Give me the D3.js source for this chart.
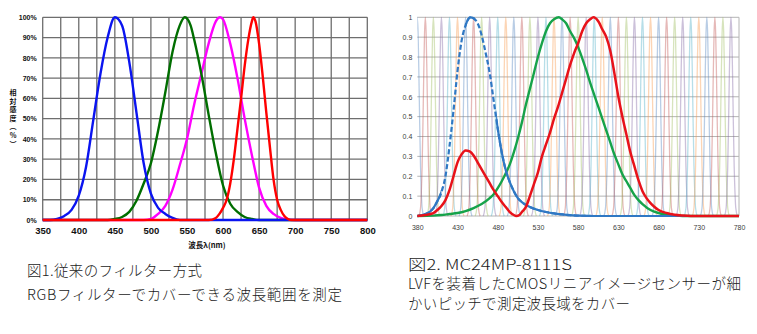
<!DOCTYPE html>
<html>
<head>
<meta charset="utf-8">
<script src="https://cdn.jsdelivr.net/npm/d3@7/dist/d3.min.js"></script>
<style>
  html, body { margin: 0; padding: 0; background: #fff; }
  svg { display: block; }
  .cap { font-family: "Noto Sans CJK JP", sans-serif; font-weight: 300; fill: #1a1a1a; }
</style>
</head>
<body>
<svg id="chart" width="757" height="334"></svg>
<script>
// ---------- Figure 1: conventional RGB filters (relative sensitivity, %) ----------
const fig1Ticks = [350, 400, 450, 500, 550, 600, 650, 700, 750, 800];
const fig1Grid = [350, 375, 400, 425, 450, 475, 500, 525, 550, 575, 600, 625, 650, 675, 700, 725, 750, 775, 800];
const fig1YTicks = [0, 10, 20, 30, 40, 50, 60, 70, 80, 90, 100];

const fig1Blue = [[350,0],[360,0],[370,0.5],[380,2],[390,5],[400,12],[410,26],[420,49],[430,72],[440,90],[450,100],[460,96],[470,78],[480,53],[490,28],[500,13],[510,6],[520,3],[530,1],[540,0],[800,0]];
const fig1Green = [[350,0],[440,0],[450,0.5],[460,1.5],[470,4],[480,9.5],[490,18],[500,28],[510,44],[520,63],[530,83],[540,96],[547,100],[555,96],[560,89],[570,72],[580,52],[590,33],[600,17],[610,8],[620,4],[630,1.5],[640,0.5],[650,0],[800,0]];
const fig1Magenta = [[350,0],[490,0],[500,0.5],[510,3],[520,7],[530,15],[540,27],[550,40],[560,57],[570,72],[580,87],[590,98],[596,100],[600,99],[610,87],[620,70],[630,50],[640,32],[650,16],[660,7],[670,3],[680,1],[690,0.3],[700,0],[800,0]];
const fig1Red = [[350,0],[580,0],[590,1],[595,3],[600,6],[605,10],[610,18],[615,30],[620,45],[625,60],[630,76],[635,89],[640,98],[642,100],[645,98],[650,87],[655,71],[660,53],[665,36],[670,20],[675,10],[680,5],[685,2],[690,0.5],[695,0],[800,0]];

// ---------- Figure 2: LVF + CMOS linear image sensor ----------
const fig2Ticks = [380, 430, 480, 530, 580, 630, 680, 730, 780];
const fig2YTicks = [0, 0.1, 0.2, 0.3, 0.4, 0.5, 0.6, 0.7, 0.8, 0.9, 1];

// centre wavelengths of the narrow LVF channels
const channelCenters = [380,390,400,410,420,430,440,450,460,470,480,490,500,510,520,530,540,550,560,570,580,590,600,610,620,630,640,650,660,670,680,690,700,710,720,730,740,750,760,770];
// shared channel response: offset from centre (nm) -> relative response
const channelOffsets = [-8,-6,-5,-4,-3,-2,-1,0,1,2,3,4,5,6,8];
const channelResponse = [0,0.04,0.12,0.25,0.46,0.71,0.92,1,0.92,0.71,0.46,0.25,0.12,0.04,0];
const channelColors = ["#4f81bd","#c0504d","#9bbb59","#8064a2","#4bacc6","#f79646"];

const fig2Blue = [[380,0],[390,0.01],[395,0.02],[400,0.04],[405,0.075],[410,0.12],[415,0.2],[420,0.35],[425,0.53],[430,0.73],[435,0.88],[440,0.96],[446,1.0],[450,0.995],[455,0.97],[460,0.91],[465,0.82],[470,0.72],[475,0.58],[480,0.44],[485,0.32],[490,0.23],[495,0.17],[500,0.125],[505,0.09],[510,0.07],[520,0.045],[530,0.03],[540,0.02],[550,0.013],[560,0.008],[570,0.004],[580,0.002],[600,0],[780,0]];
const fig2Green = [[380,0],[400,0.002],[410,0.005],[420,0.01],[430,0.015],[440,0.025],[450,0.04],[460,0.06],[470,0.09],[475,0.11],[480,0.14],[485,0.175],[490,0.215],[495,0.26],[500,0.32],[505,0.39],[510,0.47],[515,0.56],[520,0.64],[525,0.72],[530,0.8],[535,0.87],[540,0.93],[545,0.97],[550,0.99],[556,1.0],[560,0.99],[565,0.97],[570,0.93],[575,0.895],[580,0.85],[585,0.795],[590,0.735],[595,0.67],[600,0.61],[605,0.55],[610,0.49],[615,0.43],[620,0.37],[625,0.31],[630,0.26],[635,0.21],[640,0.175],[645,0.14],[650,0.105],[655,0.08],[660,0.06],[670,0.03],[680,0.015],[690,0.006],[700,0.002],[710,0],[780,0]];
const fig2Red = [[380,0],[390,0.005],[400,0.015],[405,0.03],[410,0.05],[415,0.08],[420,0.13],[425,0.2],[430,0.27],[435,0.31],[440,0.33],[445,0.325],[450,0.305],[455,0.27],[460,0.235],[465,0.2],[470,0.165],[475,0.13],[480,0.1],[485,0.07],[490,0.045],[495,0.02],[500,0.005],[503,0],[507,0.005],[510,0.02],[515,0.045],[520,0.1],[525,0.16],[530,0.22],[535,0.3],[540,0.36],[545,0.42],[550,0.49],[555,0.55],[560,0.62],[565,0.69],[570,0.76],[575,0.82],[580,0.87],[585,0.93],[590,0.97],[595,0.99],[599,1.0],[605,0.98],[610,0.94],[615,0.9],[620,0.83],[625,0.72],[630,0.6],[635,0.5],[640,0.41],[645,0.32],[650,0.25],[655,0.18],[660,0.125],[665,0.09],[670,0.065],[675,0.045],[680,0.03],[690,0.015],[700,0.006],[710,0.002],[720,0],[780,0]];

// captions
const caption1 = ["図1.従来のフィルター方式", "RGBフィルターでカバーできる波長範囲を測定"];
const caption2 = ["図2. MC24MP-8111S", "LVFを装着したCMOSリニアイメージセンサーが細", "かいピッチで測定波長域をカバー"];
const fig1YTitle = ["相","対","感","度","︵","%","︶"];
const fig1XTitle = "波長λ(nm)";

// rendered widths of the caption lines (layout)
const caption1Widths = [175, 315];
const caption2Widths = [164, 333, 222];

const svg = d3.select("#chart");
svg.append("rect").attr("width", 757).attr("height", 334).attr("fill", "#fff");

// ================= Figure 1 =================
const x1 = d3.scaleLinear().domain([350, 800]).range([42.7, 367.3]);
const y1 = d3.scaleLinear().domain([0, 100]).range([220, 17.3]);
const g1 = svg.append("g");

// grid
g1.append("g").selectAll("line").data(fig1Grid).join("line")
  .attr("x1", d => x1(d)).attr("x2", d => x1(d))
  .attr("y1", y1(100)).attr("y2", y1(0))
  .attr("stroke", "#6e6e6e").attr("stroke-width", 1.3);
g1.append("g").selectAll("line").data(fig1YTicks).join("line")
  .attr("x1", x1(350)).attr("x2", x1(800))
  .attr("y1", d => y1(d)).attr("y2", d => y1(d))
  .attr("stroke", "#6e6e6e").attr("stroke-width", 1.3);

// axes (labels only)
const ax1 = g1.append("g").attr("transform", `translate(0,${y1(0)})`)
  .call(d3.axisBottom(x1).tickValues(fig1Ticks).tickSize(0).tickPadding(7).tickFormat(d3.format("d")));
ax1.select(".domain").remove();
ax1.selectAll("text").attr("font-family", "Liberation Sans, Arial, sans-serif")
  .attr("font-weight", "bold").attr("font-size", 9.5).attr("fill", "#111");

const ay1 = g1.append("g").attr("transform", `translate(${x1(350)},0)`)
  .call(d3.axisLeft(y1).tickValues(fig1YTicks).tickSize(0).tickPadding(6).tickFormat(d => d + "%"));
ay1.select(".domain").remove();
ay1.selectAll("text").attr("font-family", "Liberation Sans, Arial, sans-serif")
  .attr("font-weight", "bold").attr("font-size", 7).attr("fill", "#111");

// axis titles
g1.append("g").selectAll("text").data(fig1YTitle).join("text")
  .attr("x", 13).attr("y", (d, i) => 95 + i * 8.6)
  .attr("text-anchor", "middle")
  .attr("font-family", "Noto Sans CJK JP, sans-serif").attr("font-weight", "bold")
  .attr("font-size", 7).attr("fill", "#111")
  .text(d => d);
g1.append("text").attr("x", 207).attr("y", 247.5).attr("text-anchor", "middle")
  .attr("font-family", "Noto Sans CJK JP, sans-serif").attr("font-weight", "bold")
  .attr("font-size", 7.5).attr("fill", "#111").text(fig1XTitle);

const line1 = d3.line().x(d => x1(d[0])).y(d => y1(d[1])).curve(d3.curveMonotoneX);
[[fig1Magenta, "#ff00ff"], [fig1Green, "#006e00"], [fig1Blue, "#0a14f0"], [fig1Red, "#ff0000"]]
  .forEach(([data, color]) => {
    g1.append("path").datum(data).attr("d", line1)
      .attr("fill", "none").attr("stroke", color).attr("stroke-width", 2.4)
      .attr("stroke-linejoin", "round");
  });

// ================= Figure 2 =================
const x2 = d3.scaleLinear().domain([380, 780]).range([417.3, 739]);
const y2 = d3.scaleLinear().domain([0, 1]).range([216, 17.3]);
const g2 = svg.append("g");

g2.append("clipPath").attr("id", "plot2")
  .append("rect").attr("x", x2(380)).attr("y", y2(1) - 2)
  .attr("width", x2(780) - x2(380)).attr("height", y2(0) - y2(1) + 4);

// horizontal grid
g2.append("g").selectAll("line").data(fig2YTicks).join("line")
  .attr("x1", x2(380)).attr("x2", x2(780))
  .attr("y1", d => y2(d)).attr("y2", d => y2(d))
  .attr("stroke", "#b4b4b4").attr("stroke-width", 1);
g2.append("line").attr("x1", x2(780)).attr("x2", x2(780))
  .attr("y1", y2(1)).attr("y2", y2(0)).attr("stroke", "#b4b4b4").attr("stroke-width", 1);

// narrow channel responses
const line2 = d3.line().x(d => x2(d[0])).y(d => y2(d[1])).curve(d3.curveMonotoneX);
const chG = g2.append("g").attr("clip-path", "url(#plot2)");
channelCenters.forEach((c, i) => {
  const pts = channelOffsets.map((o, k) => [c + o, channelResponse[k]]);
  chG.append("path").datum(pts).attr("d", line2)
    .attr("fill", "none").attr("stroke", channelColors[i % channelColors.length])
    .attr("stroke-opacity", 0.4).attr("stroke-width", 1.3);
});

// axes labels
const ax2 = g2.append("g").attr("transform", `translate(0,${y2(0)})`)
  .call(d3.axisBottom(x2).tickValues(fig2Ticks).tickSize(0).tickPadding(9).tickFormat(d3.format("d")));
ax2.select(".domain").remove();
ax2.selectAll("text").attr("font-family", "Liberation Sans, Arial, sans-serif")
  .attr("font-size", 7).attr("fill", "#404040");
const ay2 = g2.append("g").attr("transform", `translate(${x2(380)},0)`)
  .call(d3.axisLeft(y2).tickValues(fig2YTicks).tickSize(0).tickPadding(5).tickFormat(d => d3.format("")(d)));
ay2.select(".domain").remove();
ay2.selectAll("text").attr("font-family", "Liberation Sans, Arial, sans-serif")
  .attr("font-size", 7).attr("fill", "#404040");

// main curves
g2.append("path").datum(fig2Green).attr("d", line2)
  .attr("fill", "none").attr("stroke", "#16a34a").attr("stroke-width", 2.4);
// blue curve: dashed on its steep flanks, solid elsewhere
g2.append("clipPath").attr("id", "blueSolid").selectAll("rect")
  .data([[380, 410], [440, 452], [478, 780]]).join("rect")
  .attr("x", d => x2(d[0])).attr("width", d => x2(d[1]) - x2(d[0]))
  .attr("y", 0).attr("height", 240);
g2.append("path").datum(fig2Blue).attr("d", line2)
  .attr("fill", "none").attr("stroke", "#2f78c4").attr("stroke-width", 2.2)
  .attr("stroke-dasharray", "5,2.5");
g2.append("path").datum(fig2Blue).attr("d", line2).attr("clip-path", "url(#blueSolid)")
  .attr("fill", "none").attr("stroke", "#2f78c4").attr("stroke-width", 2.2);
g2.append("path").datum(fig2Red).attr("d", line2)
  .attr("fill", "none").attr("stroke", "#e8121a").attr("stroke-width", 2.5);

// ================= Captions =================
svg.append("g").selectAll("text").data(caption1).join("text")
  .attr("class", "cap").attr("x", 27).attr("y", (d, i) => 275.5 + i * 24.5)
  .attr("font-size", 14.5)
  .attr("textLength", (d, i) => caption1Widths[i]).attr("lengthAdjust", "spacing")
  .text(d => d);
svg.append("g").selectAll("text").data(caption2).join("text")
  .attr("class", "cap").attr("x", 408).attr("y", (d, i) => 270 + i * 19.3)
  .attr("font-size", 14.5)
  .attr("textLength", (d, i) => caption2Widths[i])
  .attr("lengthAdjust", (d, i) => i === 0 ? "spacingAndGlyphs" : "spacing")
  .text(d => d);
</script>
</body>
</html>
